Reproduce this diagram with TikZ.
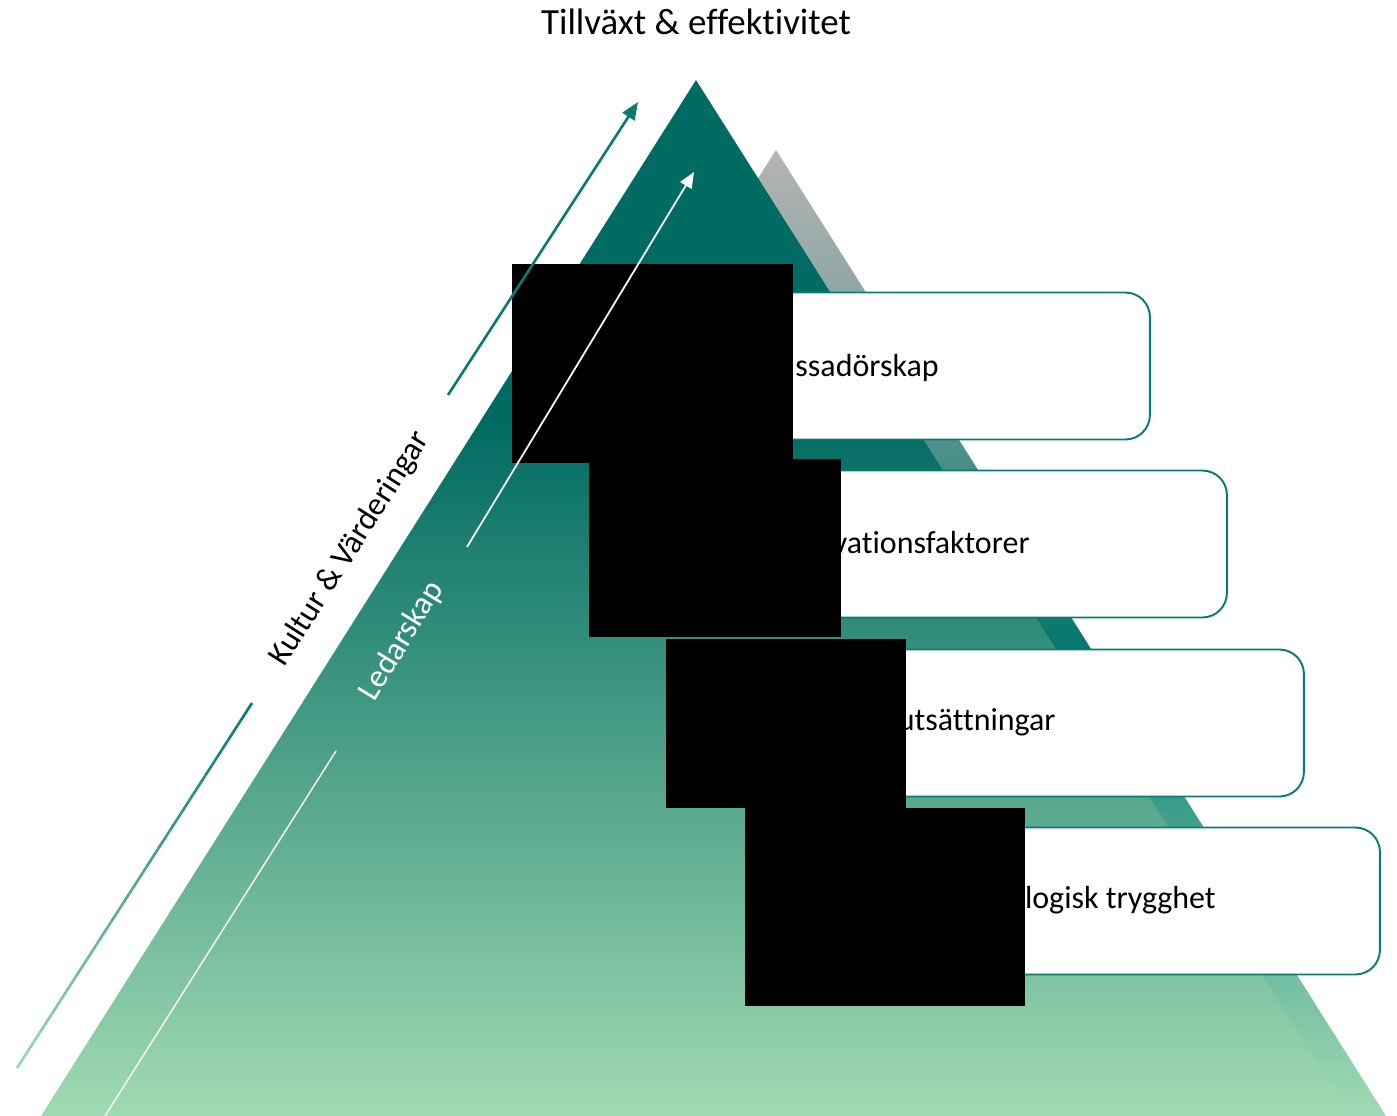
\documentclass[tikz,border=0pt]{standalone}
\usepackage{fontspec}
\setmainfont{Carlito}[Ligatures={NoCommon,NoContextual}]
\usetikzlibrary{arrows.meta,calc}

\definecolor{tealdark}{RGB}{0,107,98}
\definecolor{tealedge}{RGB}{10,123,115}
\definecolor{greenlight}{RGB}{160,218,178}
\definecolor{greyback}{RGB}{180,180,180}
\definecolor{backa}{RGB}{140,166,163}
\definecolor{backb}{RGB}{74,143,136}
\definecolor{backc}{RGB}{7,119,109}
\definecolor{backd}{RGB}{64,160,140}
\definecolor{backbot}{RGB}{160,218,180}

\pgfdeclareverticalshading{frontshade}{100bp}{color(0bp)=(greenlight); color(25bp)=(greenlight); color(58.6bp)=(tealdark); color(100bp)=(tealdark)}
\pgfdeclareverticalshading{backshade}{100bp}{color(0bp)=(backbot); color(25bp)=(backbot); color(40.3bp)=(backd); color(49.6bp)=(backc); color(59bp)=(backb); color(67.2bp)=(backa); color(75bp)=(greyback); color(100bp)=(greyback)}

\begin{document}
\begin{tikzpicture}[x=0.02cm,y=-0.02cm,
  labelbox/.style={draw=tealedge,line width=1.1pt,fill=white,rounded corners=14pt,
    minimum width=12.2cm,minimum height=2.94cm,inner sep=0pt},
  boxtext/.style={anchor=base east,inner sep=0pt,font=\fontsize{18.2}{22}\selectfont},
  sidetext/.style={font=\fontsize{18.5}{22}\selectfont},
  maskbox/.style={fill=black}]
\useasboundingbox (0,0) rectangle (1397,1116);

% Back and front triangles
\shade[shading=backshade] (776,150) -- (1386,1116) -- (165,1116) -- cycle;
\shade[shading=frontshade] (696,80) -- (1351,1116) -- (41,1116) -- cycle;

% Title
\node[anchor=base,font=\fontsize{21}{25}\selectfont] (title) at (696,34) {Tillväxt \& effektivitet};

% Step boxes
\foreach \cx/\cy/\nm in {845/366/ambass, 922/544/motiv, 999/723/forut, 1075/901/trygg}
  \node[labelbox] (\nm) at (\cx,\cy) {};
\node[boxtext] (ambasstxt) at (939,376) {ssadörskap};
\node[boxtext] (motivtxt) at (1030,553) {vationsfaktorer};
\node[boxtext] (foruttxt) at (1056,730) {utsättningar};
\node[boxtext] (ttyggtxt) at (1216,908) {logisk trygghet};

% Masks
\foreach \xa/\ya/\xb/\yb in {512/264/793/463, 589/459/841/637, 666/639/906/808, 745/808/1025/1006}
  \fill[maskbox] (\xa,\ya) rectangle (\xb,\yb);

% Kultur arrow
\coordinate (kvtip) at (638,102);
\coordinate (kvstart) at (448,395);
\coordinate (kvmid) at (252,703);
\coordinate (kvend) at (17,1068);
\draw[tealedge,line width=1.5pt,-{Triangle[length=10pt,width=8pt]}] (kvstart) -- (kvtip);
\foreach \k in {0,...,19} {
  \pgfmathtruncatemacro\pct{100-5*\k}
  \pgfmathsetmacro\ta{\k/20}
  \pgfmathsetmacro\tb{(\k+1)/20}
  \draw[tealedge!\pct!greenlight,line width=1.5pt] ($(kvmid)!\ta!(kvend)$) -- ($(kvmid)!\tb!(kvend)$);
}
\node[sidetext,rotate=57.5] (kultur) at (350,549) {Kultur \& Värderingar};

% Ledarskap arrow
\coordinate (ledtip) at (694,172);
\coordinate (ledstart) at (467,547);
\coordinate (ledmid) at (336,751);
\coordinate (ledend) at (105,1116);
\draw[white,line width=1pt,-{Triangle[length=9pt,width=7.5pt]}] (ledstart) -- (ledtip);
\draw[white,line width=0.8pt] (ledmid) -- (ledend);
\node[sidetext,white,rotate=58.7] (ledar) at (402,641) {Ledarskap};
\end{tikzpicture}
\end{document}
